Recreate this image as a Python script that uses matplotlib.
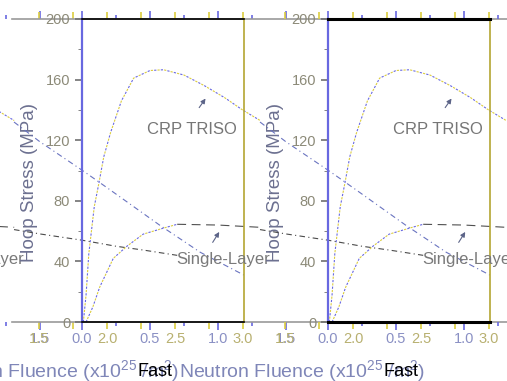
import matplotlib
matplotlib.use("Agg")
import matplotlib.pyplot as plt
from matplotlib.ticker import MultipleLocator, FormatStrFormatter

plt.rcParams['font.family'] = ['Liberation Sans', 'DejaVu Sans']
plt.rcParams['mathtext.fontset'] = 'custom'
plt.rcParams['mathtext.rm'] = 'Liberation Sans'

# ---------------------------------------------------------------------------
# Curves (x in fluence units of the lower axis, y in MPa)
# ---------------------------------------------------------------------------
crp_x = [0.01, 0.03, 0.05, 0.09, 0.125, 0.16, 0.21, 0.29, 0.38, 0.5, 0.6, 0.75, 0.9, 1.05, 1.18, 1.31]
crp_y = [0, 18, 45, 76, 92, 109, 125, 146, 161, 166, 166.5, 163, 156, 148, 140, 133]

desc_x = [-0.5, -0.31, 0.02, 0.21, 0.57, 0.87, 1.19]
desc_y = [132, 119, 99, 87, 64, 46, 31]

flat_x = [-0.5, -0.3, 0.0, 0.25, 0.45, 0.7]
flat_y = [61, 58, 54, 50, 47.5, 44]

single_x = [0.03, 0.08, 0.13, 0.23, 0.33, 0.45, 0.62, 0.7]
single_y = [0, 10, 23, 42, 50, 58, 62.5, 64.5]
plateau_x = [0.7, 1.0, 1.31]
plateau_y = [64.5, 64, 62.5]

yticks = [0, 40, 80, 120, 160, 200]
lower_ticks = [0.0, 0.5, 1.0, 1.5]
upper_ticks = [1.5, 2.0, 2.5, 3.0]
tile_offsets = [-246, 0, 246]

BLUE = '#6868e0'
YELLOW = '#dccd40'
OLIVE = '#b4a632'
W, H = 507, 381


def rect(x0, x1):
    return [x0 / W, 59 / H, (x1 - x0) / W, 303 / H]


def two_tone(ax, x, y):
    ax.plot(x, y, color=BLUE, lw=0.8, ls=(0, (2, 4)), clip_on=False)
    ax.plot(x, y, color=YELLOW, lw=0.8, ls=(3, (2, 4)), clip_on=False)


fig = plt.figure(figsize=(5.07, 3.81), dpi=100)

for i, off in enumerate(tile_offsets):
    L = 82 + off
    thick = 2.2 if i == 2 else 1.2

    # lower (blue) fluence axis
    bx = fig.add_axes(rect(L, L + 204))
    bx.set_xlim(0, 1.5)
    bx.set_frame_on(False)
    bx.set_yticks([])
    bx.set_xticks(lower_ticks)
    bx.xaxis.set_minor_locator(MultipleLocator(0.25))
    bx.xaxis.set_major_formatter(FormatStrFormatter('%.1f'))
    bx.tick_params(axis='x', which='both', top=True, bottom=True, direction='out',
                   color=BLUE, labelcolor='#8a90c4', labelsize=10.5, width=1.2, pad=1)
    bx.tick_params(axis='x', which='major', length=6)
    bx.tick_params(axis='x', which='minor', length=3)

    # upper (yellow) fluence axis
    if i > 0:
        yx = fig.add_axes(rect(L - 43, L + 161))
        yx.set_xlim(1.5, 3.0)
        yx.set_frame_on(False)
        yx.set_yticks([])
        yx.set_xticks(upper_ticks)
        yx.xaxis.set_minor_locator(MultipleLocator(0.25))
        yx.xaxis.set_major_formatter(FormatStrFormatter('%.1f'))
        yx.tick_params(axis='x', which='both', top=True, bottom=True, direction='out',
                       color=YELLOW, labelcolor='#b8b070', labelsize=10.5, width=1.2,
                       length=5, pad=2)

    # main panel
    ax = fig.add_axes(rect(L, L + 162))
    ax.patch.set_visible(False)
    ax.set_xlim(0, 162 / 136)
    ax.set_ylim(0, 200)
    ax.set_xticks([])
    ax.set_yticks(yticks)
    ax.yaxis.set_minor_locator(MultipleLocator(20))
    ax.tick_params(axis='y', which='both', direction='out', color='#707070',
                   labelcolor='#8c8a78', labelsize=10.5)
    ax.tick_params(axis='y', which='major', length=5, width=1.2)
    ax.tick_params(axis='y', which='minor', length=3)
    ax.spines['left'].set_color(BLUE)
    ax.spines['left'].set_linewidth(1.6)
    ax.spines['right'].set_color(OLIVE)
    ax.spines['right'].set_linewidth(1.2)
    ax.spines['top'].set_linewidth(thick)
    ax.spines['bottom'].set_linewidth(thick)

    if off == 0:
        for yv in (0, 200):
            ax.axhline(yv, xmin=-0.43, xmax=2.7, color='#9a9a9a', lw=1.2,
                       clip_on=False, zorder=0)

    two_tone(ax, crp_x, crp_y)
    ax.plot(desc_x, desc_y, color='#6a74c0', lw=0.8, ls=(0, (5, 3, 1, 3)), clip_on=False)
    ax.plot(flat_x, flat_y, color='#4a4a4a', lw=0.8, ls=(0, (5, 3, 1, 3)), clip_on=False)
    two_tone(ax, single_x, single_y)
    ax.plot(plateau_x, plateau_y, color='#505050', lw=0.8, ls=(0, (8, 5)), clip_on=False)

    ax.annotate('', xy=(0.92, 149), xytext=(0.85, 140),
                arrowprops=dict(arrowstyle='-|>', color='#5c6488', lw=0.8,
                                mutation_scale=7), annotation_clip=False)
    ax.annotate('', xy=(1.02, 61), xytext=(0.95, 51),
                arrowprops=dict(arrowstyle='-|>', color='#5c6488', lw=0.8,
                                mutation_scale=7), annotation_clip=False)
    ax.text(0.48, 127, 'CRP TRISO', fontsize=12, color='#767676', va='center',
            clip_on=False)
    ax.text(0.69, 41, 'Single-Layer', fontsize=12, color='#7a7a7a', va='center',
            clip_on=False)

    ax.set_ylabel('Hoop Stress (MPa)', fontsize=13.5, color='#6c7090')
    ax.yaxis.set_label_coords(-44 / 162, 0.46)
    ax.text(-0.92, -0.165, 'Neutron Fluence (x10$^{\\mathrm{25}}$ /m$^{\\mathrm{2}}$)',
            transform=ax.transAxes, fontsize=14, color='#7f86b8', va='center',
            ha='left', clip_on=False)
    ax.text(0.34, -0.165, 'Fast', transform=ax.transAxes, fontsize=13,
            color='black', va='center', ha='left', clip_on=False)

fig.savefig('out.png', dpi=100)
